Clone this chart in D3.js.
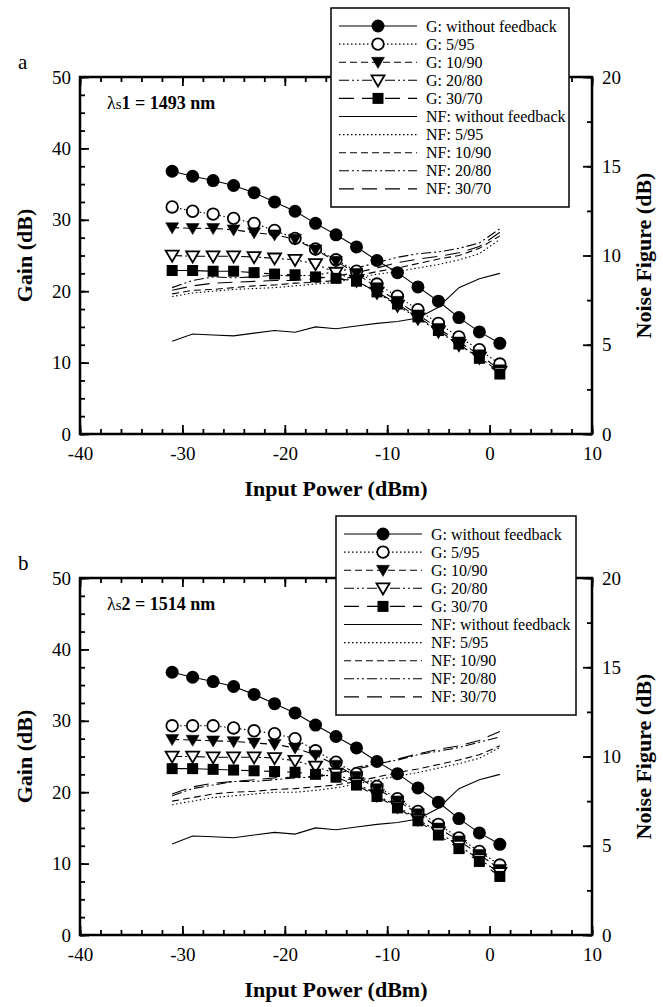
<!DOCTYPE html>
<html>
<head>
<meta charset="utf-8">
<script src="https://cdn.jsdelivr.net/npm/d3@7"></script>
<style>
  body { margin: 0; background: #fff; }
  text { font-family: "Liberation Serif", "Times New Roman", serif; fill: #000; }
</style>
</head>
<body>
<svg id="chart" width="663" height="1007"></svg>
<script>
// input power (dBm) of the measured points
var inputPower = [-31, -29, -27, -25, -23, -21, -19, -17, -15, -13, -11, -9, -7, -5, -3, -1, 1];
var configs = ["without feedback", "5/95", "10/90", "20/80", "30/70"];

// panel a, signal 1493 nm
var gainA_none = [36.8, 36.1, 35.5, 34.8, 33.8, 32.5, 31.2, 29.5, 27.9, 26.2, 24.3, 22.6, 20.6, 18.6, 16.3, 14.3, 12.7];
var gainA_5 = [31.8, 31.2, 30.8, 30.2, 29.5, 28.5, 27.4, 25.9, 24.4, 22.8, 21.0, 19.3, 17.4, 15.5, 13.6, 11.8, 9.8];
var gainA_10 = [28.9, 28.8, 28.8, 28.6, 28.2, 27.9, 27.3, 25.8, 24.2, 22.5, 20.5, 18.6, 16.7, 14.8, 12.9, 11.1, 9.0];
var gainA_20 = [25.0, 24.9, 24.9, 24.9, 24.8, 24.6, 24.4, 23.8, 22.6, 21.5, 19.8, 18.0, 16.2, 14.4, 12.5, 10.7, 8.7];
var gainA_30 = [22.9, 22.9, 22.8, 22.8, 22.6, 22.4, 22.3, 22.0, 21.8, 21.4, 19.9, 18.2, 16.4, 14.5, 12.6, 10.6, 8.4];
var nfA_none = [5.2, 5.6, 5.55, 5.5, 5.65, 5.8, 5.7, 6.0, 5.9, 6.05, 6.2, 6.3, 6.5, 7.1, 8.2, 8.7, 9.0];
var nfA_5 = [7.7, 7.9, 8.0, 8.1, 8.15, 8.2, 8.3, 8.4, 8.5, 8.75, 8.95, 9.1, 9.3, 9.5, 9.75, 10.1, 10.9];
var nfA_10 = [7.85, 8.05, 8.1, 8.2, 8.3, 8.35, 8.45, 8.5, 8.6, 8.85, 9.1, 9.3, 9.55, 9.8, 10.0, 10.4, 11.1];
var nfA_20 = [8.2, 8.6, 8.8, 8.75, 8.8, 8.9, 8.85, 8.9, 9.1, 9.3, 9.6, 9.9, 10.1, 10.2, 10.4, 10.7, 11.5];
var nfA_30 = [8.05, 8.3, 8.45, 8.5, 8.55, 8.6, 8.6, 8.7, 8.85, 9.05, 9.3, 9.6, 9.8, 9.95, 10.15, 10.5, 11.3];

// panel b, signal 1514 nm
var gainB_none = [36.8, 36.1, 35.5, 34.8, 33.7, 32.4, 31.1, 29.4, 27.8, 26.2, 24.3, 22.6, 20.6, 18.6, 16.3, 14.3, 12.7];
var gainB_5 = [29.3, 29.3, 29.3, 29.0, 28.6, 28.2, 27.5, 25.8, 24.2, 22.6, 20.8, 19.1, 17.3, 15.5, 13.6, 11.7, 9.8];
var gainB_10 = [27.4, 27.3, 27.2, 27.1, 26.9, 26.7, 26.2, 25.2, 23.8, 22.2, 20.5, 18.8, 17.0, 15.0, 13.2, 11.3, 9.2];
var gainB_20 = [25.0, 25.0, 24.9, 24.9, 24.9, 24.8, 24.4, 23.6, 22.6, 21.3, 19.6, 18.0, 16.2, 14.4, 12.5, 10.6, 8.7];
var gainB_30 = [23.3, 23.3, 23.2, 23.1, 23.0, 22.9, 22.8, 22.5, 22.1, 21.0, 19.4, 17.8, 16.0, 14.0, 12.1, 10.3, 8.2];
var nfB_none = [5.1, 5.55, 5.5, 5.45, 5.6, 5.75, 5.65, 6.0, 5.9, 6.05, 6.2, 6.3, 6.5, 7.1, 8.2, 8.7, 9.0];
var nfB_5 = [7.3, 7.5, 7.7, 7.8, 7.9, 8.0, 8.0, 8.1, 8.25, 8.45, 8.7, 8.9, 9.1, 9.35, 9.6, 9.9, 10.5];
var nfB_10 = [7.5, 7.7, 7.9, 8.0, 8.05, 8.15, 8.2, 8.3, 8.4, 8.6, 8.85, 9.1, 9.3, 9.55, 9.8, 10.1, 10.6];
var nfB_20 = [7.8, 8.2, 8.4, 8.6, 8.6, 8.7, 8.8, 8.85, 9.0, 9.4, 9.6, 9.8, 10.1, 10.3, 10.5, 10.8, 11.1];
var nfB_30 = [7.9, 8.3, 8.5, 8.6, 8.7, 8.8, 8.85, 8.9, 9.05, 9.3, 9.55, 9.85, 10.15, 10.4, 10.6, 10.9, 11.4];

var xTicks = [-40, -30, -20, -10, 0, 10];
var gainTicks = [0, 10, 20, 30, 40, 50];
var nfTicks = [0, 5, 10, 15, 20];

var dashes = [null, "1.5,2.5", "7,4", "10,3,2,3,2,3", "15,8"];
var symbols = ["circleF", "circleO", "triF", "triO", "square"];

var panels = [
  { label: "a", top: 77, idx: "1", nm: "1493",
    gain: [gainA_none, gainA_5, gainA_10, gainA_20, gainA_30],
    nf: [nfA_none, nfA_5, nfA_10, nfA_20, nfA_30],
    legend: { x: 331, y: 8, w: 238, h: 199 } },
  { label: "b", top: 578, idx: "2", nm: "1514",
    gain: [gainB_none, gainB_5, gainB_10, gainB_20, gainB_30],
    nf: [nfB_none, nfB_5, nfB_10, nfB_20, nfB_30],
    legend: { x: 336, y: 516, w: 240, h: 199 } }
];

var svg = d3.select("#chart");
var left = 80, width = 512, height = 357;
var plain = function (d) { return String(d); };

function drawSymbol(g, type, cx, cy) {
  if (type == "circleF" || type == "circleO") {
    g.append("circle").attr("cx", cx).attr("cy", cy).attr("r", type == "circleF" ? 6.5 : 5.8)
      .attr("fill", type == "circleF" ? "#000" : "#fff")
      .attr("stroke", "#000").attr("stroke-width", type == "circleF" ? 0 : 1.8);
  } else if (type == "triF" || type == "triO") {
    var s = 6.5;
    g.append("path")
      .attr("d", "M" + (cx - s) + "," + (cy - s * 0.75) + "L" + (cx + s) + "," + (cy - s * 0.75) + "L" + cx + "," + (cy + s * 0.95) + "Z")
      .attr("fill", type == "triF" ? "#000" : "#fff")
      .attr("stroke", "#000").attr("stroke-width", type == "triF" ? 0.5 : 1.8);
  } else {
    g.append("rect").attr("x", cx - 5.5).attr("y", cy - 5.5).attr("width", 11).attr("height", 11).attr("fill", "#000");
  }
}

panels.forEach(function (p) {
  var x = d3.scaleLinear().domain([-40, 10]).range([left, left + width]);
  var y = d3.scaleLinear().domain([0, 50]).range([p.top + height, p.top]);
  var y2 = d3.scaleLinear().domain([0, 20]).range([p.top + height, p.top]);
  var g = svg.append("g");

  var line = d3.line().x(function (d, i) { return x(inputPower[i]); });

  // NF curves
  p.nf.forEach(function (s, k) {
    g.append("path").datum(s)
      .attr("d", line.y(function (d) { return y2(d); }))
      .attr("fill", "none").attr("stroke", "#000").attr("stroke-width", 1.1)
      .attr("stroke-dasharray", dashes[k]);
  });
  // gain curves
  p.gain.forEach(function (s, k) {
    g.append("path").datum(s)
      .attr("d", line.y(function (d) { return y(d); }))
      .attr("fill", "none").attr("stroke", "#000").attr("stroke-width", 1.1)
      .attr("stroke-dasharray", dashes[k]);
  });
  p.gain.forEach(function (s, k) {
    s.forEach(function (d, i) { drawSymbol(g, symbols[k], x(inputPower[i]), y(d)); });
  });

  // axes with inward ticks
  var minorX = d3.range(-40, 10.1, 2);
  var minorY = d3.range(0, 50.1, 2.5);
  var minorY2 = d3.range(0, 20.1, 2.5);
  g.append("g").attr("transform", "translate(0," + (p.top + height) + ")")
    .call(d3.axisBottom(x).tickValues(minorX).tickSize(-5).tickFormat(""));
  g.append("g").attr("transform", "translate(0," + (p.top + height) + ")")
    .call(d3.axisBottom(x).tickValues(xTicks).tickSize(-9).tickPadding(13).tickFormat(plain));
  g.append("g").attr("transform", "translate(0," + p.top + ")")
    .call(d3.axisTop(x).tickValues(minorX).tickSize(-5).tickFormat(""));
  g.append("g").attr("transform", "translate(0," + p.top + ")")
    .call(d3.axisTop(x).tickValues(xTicks).tickSize(-9).tickFormat(""));
  g.append("g").attr("transform", "translate(" + left + ",0)")
    .call(d3.axisLeft(y).tickValues(minorY).tickSize(-5).tickFormat(""));
  g.append("g").attr("transform", "translate(" + left + ",0)")
    .call(d3.axisLeft(y).tickValues(gainTicks).tickSize(-9).tickPadding(9).tickFormat(plain));
  g.append("g").attr("transform", "translate(" + (left + width) + ",0)")
    .call(d3.axisRight(y2).tickValues(minorY2).tickSize(-5).tickFormat(""));
  g.append("g").attr("transform", "translate(" + (left + width) + ",0)")
    .call(d3.axisRight(y2).tickValues(nfTicks).tickSize(-9).tickPadding(10).tickFormat(plain));
  g.selectAll(".domain").remove();
  g.selectAll(".tick line").attr("stroke", "#000").attr("stroke-width", 1.8);
  g.selectAll(".tick text").attr("font-size", 19).attr("font-family", "Liberation Serif");

  g.append("rect").attr("x", left).attr("y", p.top).attr("width", width).attr("height", height)
    .attr("fill", "none").attr("stroke", "#000").attr("stroke-width", 2.5);

  // titles
  g.append("text").attr("x", left + width / 2).attr("y", p.top + height + 62)
    .attr("text-anchor", "middle").attr("font-size", 22).attr("font-weight", "bold").text("Input Power (dBm)");
  g.append("text").attr("transform", "translate(32," + (p.top + height / 2) + ") rotate(-90)")
    .attr("text-anchor", "middle").attr("font-size", 22).attr("font-weight", "bold").text("Gain (dB)");
  g.append("text").attr("transform", "translate(651," + (p.top + height / 2) + ") rotate(-90)")
    .attr("text-anchor", "middle").attr("font-size", 22).attr("font-weight", "bold").text("Noise Figure (dB)");
  g.append("text").attr("x", 18).attr("y", p.top - 8).attr("font-size", 21).text(p.label);

  var ann = g.append("text").attr("x", 107).attr("y", p.top + 32).attr("font-size", 18);
  ann.append("tspan").text("λ");
  ann.append("tspan").attr("font-size", 15).text("s");
  ann.append("tspan").attr("font-weight", "bold").text(p.idx + " = " + p.nm + " nm");

  // legend
  var L = p.legend;
  var lg = svg.append("g");
  lg.append("rect").attr("x", L.x).attr("y", L.y).attr("width", L.w).attr("height", L.h)
    .attr("fill", "#fff").attr("stroke", "#000").attr("stroke-width", 1.5);
  var rows = [];
  configs.forEach(function (c, k) { rows.push({ text: "G: " + c, k: k, sym: symbols[k] }); });
  configs.forEach(function (c, k) { rows.push({ text: "NF: " + c, k: k, sym: null }); });
  rows.forEach(function (r, i) {
    var ry = L.y + 18 + i * 18.1;
    lg.append("line").attr("x1", L.x + 8).attr("x2", L.x + 86).attr("y1", ry).attr("y2", ry)
      .attr("stroke", "#000").attr("stroke-width", 1.1).attr("stroke-dasharray", dashes[r.k]);
    if (r.sym) drawSymbol(lg, r.sym, L.x + 47, ry);
    lg.append("text").attr("x", L.x + 95).attr("y", ry + 5.5).attr("font-size", 16).text(r.text);
  });
});
</script>
</body>
</html>
